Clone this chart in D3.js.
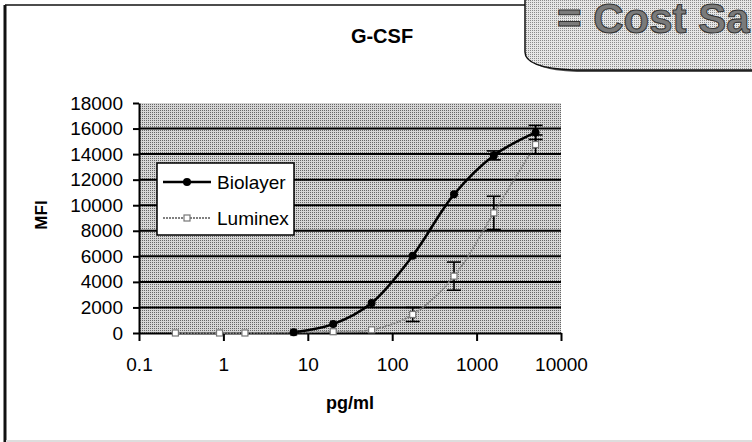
<!DOCTYPE html>
<html>
<head>
<meta charset="utf-8">
<script src="https://cdn.jsdelivr.net/npm/d3@7"></script>
<style>
  body { margin: 0; background: #fff; }
  svg { display: block; font-family: "Liberation Sans", Arial, sans-serif; }
</style>
</head>
<body>
<svg id="chart" width="752" height="442"></svg>
<script>
// chart values (null = no point drawn)
const concentrations = [0.27, 0.9, 1.8, 6.8, 20, 57, 175, 540, 1600, 5000];
const biolayerMFI = [null, null, null, 60, 700, 2350, 6050, 10850, 13900, 15700];
const biolayerSD = [0, 0, 0, 0, 0, 0, 0, 0, 350, 550];
const luminexMFI = [0, 0, 0, 40, 100, 250, 1450, 4450, 9400, 14750];
const luminexSD = [0, 0, 0, 0, 0, 0, 550, 1100, 1300, 750];
const xTicks = [0.1, 1, 10, 100, 1000, 10000];
const yTicks = [0, 2000, 4000, 6000, 8000, 10000, 12000, 14000, 16000, 18000];
const seriesNames = ['Biolayer', 'Luminex'];

const svg = d3.select('#chart');

// dither-like fills
const defs = svg.append('defs');
const plotPat = defs.append('pattern')
    .attr('id', 'plotFill').attr('width', 2).attr('height', 2)
    .attr('patternUnits', 'userSpaceOnUse');
plotPat.append('rect').attr('width', 2).attr('height', 2).attr('fill', '#d6d6d6');
plotPat.append('rect').attr('width', 1).attr('height', 1).attr('fill', '#666');

const boxPat = defs.append('pattern')
    .attr('id', 'boxFill').attr('width', 2).attr('height', 2)
    .attr('patternUnits', 'userSpaceOnUse');
boxPat.append('rect').attr('width', 2).attr('height', 2).attr('fill', '#e6e6e6');
boxPat.append('rect').attr('width', 1).attr('height', 1).attr('fill', '#8a8a8a');

// chart frame
svg.append('line').attr('x1', 5).attr('x2', 5).attr('y1', 5).attr('y2', 442)
    .attr('stroke', '#111').attr('stroke-width', 3);
svg.append('line').attr('x1', 5).attr('x2', 530).attr('y1', 5).attr('y2', 5)
    .attr('stroke', '#111').attr('stroke-width', 1.5);
svg.append('line').attr('x1', 6).attr('x2', 752).attr('y1', 441).attr('y2', 441)
    .attr('stroke', '#ddd').attr('stroke-width', 2);

// callout box in top right corner (cut by the picture edge, as in the source)
svg.append('path')
    .attr('d', 'M527,-5 L527,52 Q527,68 575,70 L760,70 L760,-5 Z')
    .attr('fill', '#555').attr('transform', 'translate(2,2)');
svg.append('path')
    .attr('d', 'M525,-5 L525,52 Q525,68 573,70 L760,70 L760,-5 Z')
    .attr('fill', 'url(#boxFill)').attr('stroke', '#111').attr('stroke-width', 1.5);
svg.append('text')
    .attr('x', 557).attr('y', 33)
    .attr('font-size', 42).attr('font-weight', 'bold')
    .attr('fill', '#7a7a7a').attr('stroke', '#333').attr('stroke-width', 1)
    .text('= Cost Sa');

// scales
const margin = {t: 103, r: 191, b: 109, l: 139};
const x = d3.scaleLog().domain([0.1, 10000]).range([margin.l, 752 - margin.r]);
const y = d3.scaleLinear().domain([0, 18000]).range([442 - margin.b, margin.t]);

// plot area
svg.append('rect')
    .attr('x', x(0.1)).attr('y', y(18000))
    .attr('width', x(10000) - x(0.1)).attr('height', y(0) - y(18000))
    .attr('fill', 'url(#plotFill)');

svg.append('g').selectAll('line')
    .data(yTicks.filter(d => d > 0 && d < 18000))
    .join('line')
    .attr('x1', x(0.1)).attr('x2', x(10000))
    .attr('y1', d => y(d)).attr('y2', d => y(d))
    .attr('stroke', '#000').attr('stroke-width', 2);

// axes
const xAxis = svg.append('g')
    .attr('transform', `translate(0,${y(0)})`)
    .call(d3.axisBottom(x).tickValues(xTicks).tickFormat(d => String(d))
        .tickSize(8).tickSizeOuter(0).tickPadding(17));
const yAxis = svg.append('g')
    .attr('transform', `translate(${x(0.1)},0)`)
    .call(d3.axisLeft(y).tickValues(yTicks).tickFormat(d => String(d))
        .tickSize(6).tickSizeOuter(0).tickPadding(10));

[xAxis, yAxis].forEach(g => {
    g.selectAll('path, line').attr('stroke', '#000').attr('stroke-width', 2);
    g.selectAll('text').attr('font-size', 19).attr('fill', '#000')
        .attr('font-family', '"Liberation Sans", Arial, sans-serif');
});

// series
const line = d3.line()
    .defined(d => d.v !== null)
    .x(d => x(d.c))
    .y(d => y(d.v))
    .curve(d3.curveCatmullRom.alpha(0.5));

const bioData = concentrations.map((c, i) => ({c, v: biolayerMFI[i], sd: biolayerSD[i]}));
const lumData = concentrations.map((c, i) => ({c, v: luminexMFI[i], sd: luminexSD[i]}));

svg.append('path').datum(lumData)
    .attr('d', line).attr('fill', 'none')
    .attr('stroke', '#808080').attr('stroke-width', 1.8)
    .attr('stroke-dasharray', '2,1');

svg.append('path').datum(bioData.filter(d => d.v !== null))
    .attr('d', line).attr('fill', 'none')
    .attr('stroke', '#000').attr('stroke-width', 2.5);

// error bars
function errorBars(data) {
    const g = svg.append('g').attr('stroke', '#000').attr('stroke-width', 1.6);
    data.filter(d => d.v !== null && d.sd > 0).forEach(d => {
        const cx = x(d.c);
        g.append('line').attr('x1', cx).attr('x2', cx)
            .attr('y1', y(d.v - d.sd)).attr('y2', y(d.v + d.sd));
        [d.v - d.sd, d.v + d.sd].forEach(v => {
            g.append('line').attr('x1', cx - 7).attr('x2', cx + 7)
                .attr('y1', y(v)).attr('y2', y(v));
        });
    });
}
errorBars(lumData);
errorBars(bioData);

// markers
svg.append('g').selectAll('rect')
    .data(lumData)
    .join('rect')
    .attr('x', d => x(d.c) - 3).attr('y', d => y(d.v) - 3)
    .attr('width', 6).attr('height', 6)
    .attr('fill', '#fff').attr('stroke', '#777').attr('stroke-width', 1.2);

svg.append('g').selectAll('circle')
    .data(bioData.filter(d => d.v !== null))
    .join('circle')
    .attr('cx', d => x(d.c)).attr('cy', d => y(d.v)).attr('r', 4)
    .attr('fill', '#000');

// legend
const legend = svg.append('g').attr('transform', 'translate(157,163)');
legend.append('rect').attr('width', 137).attr('height', 72)
    .attr('fill', '#fff').attr('stroke', '#000').attr('stroke-width', 1.5);
seriesNames.forEach((name, i) => {
    const ly = 19 + i * 36;
    const item = legend.append('g');
    item.append('line').attr('x1', 6).attr('x2', 54).attr('y1', ly).attr('y2', ly)
        .attr('stroke', i === 0 ? '#000' : '#808080')
        .attr('stroke-width', i === 0 ? 2.5 : 1.8)
        .attr('stroke-dasharray', i === 0 ? null : '2,1');
    if (i === 0) {
        item.append('circle').attr('cx', 30).attr('cy', ly).attr('r', 4).attr('fill', '#000');
    } else {
        item.append('rect').attr('x', 27).attr('y', ly - 3).attr('width', 6).attr('height', 6)
            .attr('fill', '#fff').attr('stroke', '#777').attr('stroke-width', 1.2);
    }
    item.append('text').attr('x', 60).attr('y', ly + 7)
        .attr('font-size', 19).text(name);
});

// titles
svg.append('text').attr('x', 382).attr('y', 43)
    .attr('text-anchor', 'middle').attr('font-size', 20).attr('font-weight', 'bold')
    .text('G-CSF');
svg.append('text').attr('x', 350).attr('y', 409)
    .attr('text-anchor', 'middle').attr('font-size', 18).attr('font-weight', 'bold')
    .text('pg/ml');
svg.append('text')
    .attr('transform', 'translate(47,215) rotate(-90)')
    .attr('text-anchor', 'middle').attr('font-size', 17).attr('font-weight', 'bold')
    .text('MFI');
</script>
</body>
</html>
